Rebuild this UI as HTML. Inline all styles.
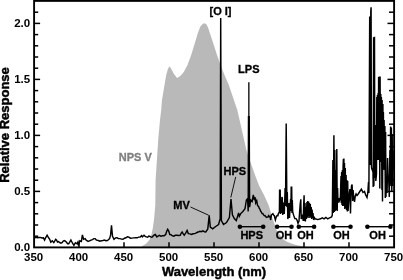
<!DOCTYPE html>
<html><head><meta charset="utf-8"><title>Spectrum</title>
<style>
html,body{margin:0;padding:0;background:#fff;}
svg{display:block}
text{font-family:"Liberation Sans",Arial,Helvetica,sans-serif;font-weight:bold;fill:#000}
</style></head><body>
<svg width="403" height="280" viewBox="0 0 403 280">
<rect width="403" height="280" fill="#fff"/>
<path d="M140.8,247.0 L146.4,243.6 L149.7,239.6 L151.6,234.0 L152.9,227.5 L154.2,218.0 L155.3,205.0 L155.6,180.0 L158.2,140.0 L160.0,120.0 L161.2,110.0 L162.0,100.0 L164.5,85.0 L166.2,75.0 L168.0,68.8 L169.5,66.2 L171.2,68.8 L173.8,73.8 L177.0,78.0 L180.0,76.2 L183.8,72.0 L187.5,65.0 L191.2,55.0 L195.0,42.5 L198.0,32.5 L200.5,26.2 L203.0,23.8 L204.5,23.2 L206.2,24.0 L208.0,27.5 L210.5,35.0 L213.8,45.0 L217.0,55.0 L220.5,65.0 L224.5,75.0 L228.8,85.0 L230.5,90.0 L237.3,110.0 L243.0,135.0 L246.4,150.0 L249.0,158.0 L251.5,165.0 L255.0,175.0 L259.0,185.5 L264.0,195.0 L268.5,205.0 L271.0,213.0 L272.5,218.5 L274.4,223.8 L276.3,229.5 L278.0,232.5 L280.0,235.0 L284.0,240.0 L287.0,241.8 L290.0,243.0 L296.0,245.0 L302.0,246.3 L306.0,247.4 Z" fill="#b9b9b9"/>
<path d="M34.5,237.8 L36.0,237.3 L37.4,237.7 L38.9,237.5 L40.4,237.4 L41.9,237.9 L43.4,237.8 L44.6,240.1 L45.6,237.8 L47.1,235.2 L48.6,237.8 L49.7,239.3 L50.8,242.3 L52.3,240.8 L53.8,242.6 L54.7,241.2 L55.6,239.3 L56.5,240.0 L57.5,242.0 L58.6,241.6 L59.8,242.7 L60.9,243.2 L62.0,242.7 L63.1,241.2 L64.2,240.5 L65.3,241.0 L66.5,242.3 L67.6,243.8 L68.7,243.8 L69.8,241.9 L70.9,240.1 L72.4,243.0 L73.9,245.3 L75.4,242.7 L76.9,243.8 L77.9,242.0 L78.4,245.3 L79.9,240.8 L81.4,241.5 L82.4,234.9 L83.6,239.3 L85.1,238.6 L86.2,240.2 L87.3,240.8 L88.0,241.5 L89.5,240.8 L91.0,240.1 L92.5,239.6 L93.9,238.6 L95.1,238.6 L96.2,239.8 L97.3,240.4 L98.4,240.5 L99.9,241.2 L101.4,240.8 L102.9,240.5 L104.4,240.1 L105.8,240.7 L107.3,240.5 L108.4,239.8 L109.6,238.6 L110.6,234.9 L111.5,225.2 L112.5,236.3 L114.0,239.3 L115.5,237.9 L117.0,237.8 L118.5,238.6 L120.0,238.6 L121.5,239.1 L123.0,239.3 L124.5,238.2 L125.9,237.8 L127.4,236.7 L128.9,237.1 L130.4,238.2 L131.9,238.1 L133.8,237.9 L135.6,237.8 L137.1,237.8 L138.6,237.1 L140.1,237.0 L141.6,235.6 L142.4,236.9 L144.0,235.3 L145.2,236.4 L146.4,236.9 L147.6,237.2 L148.8,236.1 L150.1,236.5 L151.3,237.3 L152.5,236.8 L153.7,235.3 L155.3,234.5 L156.9,236.9 L158.1,236.0 L159.3,235.3 L160.9,236.2 L162.5,235.7 L164.1,235.7 L165.7,234.5 L166.7,231.3 L167.7,229.3 L168.8,231.3 L169.8,234.5 L171.0,234.6 L172.2,235.7 L173.8,236.2 L175.4,235.3 L177.0,235.2 L178.6,235.5 L180.2,235.3 L181.1,233.3 L182.1,232.0 L183.1,233.7 L184.2,235.3 L185.8,232.8 L187.1,230.4 L188.3,233.6 L189.9,233.9 L191.5,234.5 L193.1,233.8 L194.7,233.6 L196.3,232.9 L197.9,232.0 L198.9,231.7 L200.0,231.2 L201.4,231.7 L202.9,230.9 L204.4,231.7 L205.8,231.9 L207.8,228.9 L209.2,215.2 L210.3,227.0 L212.7,228.9 L215.7,226.5 L218.6,224.5 L220.2,218.6 L220.7,18.0 L221.4,220.6 L223.5,224.5 L226.5,222.5 L229.4,217.6 L231.0,199.0 L232.4,214.7 L234.3,218.6 L236.3,220.6 L237.1,217.9 L238.6,212.9 L239.3,216.4 L240.7,213.6 L242.9,211.4 L245.0,208.6 L246.4,200.0 L247.6,198.6 L248.2,211.4 L248.5,116.8 L249.2,116.8 L249.6,207.1 L250.7,200.0 L252.1,201.4 L253.3,195.0 L254.3,200.0 L255.0,197.1 L255.7,202.9 L256.7,200.7 L257.6,205.7 L258.6,206.4 L259.3,208.5 L260.0,209.3 L260.7,211.3 L261.4,212.1 L262.1,213.6 L262.9,213.6 L263.6,214.9 L264.3,215.7 L265.0,215.5 L265.7,216.4 L266.4,217.3 L267.1,217.1 L267.9,217.1 L268.6,215.7 L269.3,216.7 L270.0,216.4 L270.7,220.0 L271.4,215.0 L272.1,214.4 L272.9,213.6 L273.6,215.0 L274.3,215.7 L275.4,220.0 L276.4,216.4 L277.1,215.6 L277.9,215.7 L278.4,213.5 L279.4,212.0 L279.6,190.3 L280.2,190.3 L280.5,214.0 L280.9,204.0 L281.4,213.0 L281.9,197.0 L282.3,198.0 L282.7,215.0 L283.7,202.5 L284.3,214.0 L285.1,188.0 L285.5,206.0 L286.2,123.6 L286.9,207.0 L287.3,192.0 L287.8,219.0 L288.4,216.0 L289.0,203.0 L289.5,218.0 L290.6,199.0 L290.9,211.0 L291.2,187.2 L291.7,187.2 L292.0,213.0 L292.3,200.0 L292.7,212.0 L293.7,215.4 L294.8,218.6 L296.1,218.6 L297.2,220.5 L298.0,223.4 L299.0,221.0 L299.6,212.0 L300.2,204.0 L300.8,199.3 L301.2,219.0 L302.4,214.5 L303.2,221.0 L303.7,204.0 L304.1,195.3 L304.5,221.0 L305.0,203.0 L305.4,221.5 L306.0,207.0 L306.4,219.0 L306.9,202.0 L307.3,217.0 L307.7,200.9 L308.1,218.0 L308.6,201.5 L309.0,216.0 L309.5,203.0 L309.9,218.0 L310.3,204.1 L310.8,217.0 L311.2,207.0 L311.7,219.0 L312.1,209.5 L312.6,218.0 L313.0,213.0 L313.6,220.0 L314.3,217.5 L315.2,218.8 L317.9,219.6 L320.5,218.8 L322.3,217.9 L324.1,218.8 L325.9,217.5 L327.7,218.8 L329.5,217.9 L331.6,217.0 L332.3,215.0 L332.9,160.0 L333.3,213.0 L333.9,135.2 L334.4,212.0 L334.8,150.0 L335.2,211.0 L335.7,170.0 L336.2,210.0 L336.8,148.9 L337.2,211.0 L337.6,188.0 L338.0,203.0 L338.8,198.0 L339.6,200.5 L340.4,197.0 L341.0,176.0 L341.3,203.0 L341.6,172.0 L342.0,205.0 L342.4,170.0 L342.7,206.0 L343.1,166.0 L343.4,159.0 L343.6,200.0 L343.9,158.5 L344.2,206.0 L344.5,163.0 L344.8,209.0 L345.3,168.0 L345.7,208.0 L346.1,175.0 L346.5,210.0 L346.9,180.0 L347.3,211.5 L347.7,181.0 L348.1,211.0 L348.9,197.3 L349.9,189.0 L350.5,213.5 L350.9,196.0 L351.5,186.0 L352.1,184.5 L352.6,201.0 L353.1,190.0 L353.6,196.0 L354.5,202.0 L355.3,196.0 L356.1,194.0 L357.0,195.5 L358.2,194.0 L359.8,191.5 L361.4,189.2 L363.0,192.5 L364.5,191.5 L365.7,195.0 L367.0,197.5 L367.8,193.0 L368.5,182.0 L368.9,193.0 L369.7,16.5 L370.1,165.0 L370.8,11.0 L371.1,7.2 L371.4,165.0 L371.6,168.0 L373.0,172.0 L373.2,187.0 L373.6,37.3 L373.9,186.0 L374.5,36.8 L374.8,178.0 L375.5,125.0 L375.8,181.0 L376.5,174.0 L376.8,97.0 L377.1,158.0 L377.4,95.0 L377.8,160.0 L378.1,93.0 L378.4,150.0 L378.6,77.0 L378.9,160.0 L379.3,76.4 L379.8,188.6 L380.1,76.4 L380.5,162.0 L380.8,94.0 L381.1,160.0 L381.4,97.0 L381.9,190.0 L382.1,100.0 L382.5,201.4 L382.9,104.0 L383.1,170.0 L383.4,112.0 L383.8,160.0 L384.1,120.0 L384.6,170.0 L384.9,126.0 L385.3,198.0 L385.6,132.0 L386.0,197.0 L386.4,176.0 L387.1,193.0 L387.6,158.0 L388.2,181.0 L388.6,177.0 L389.3,197.0 L389.9,150.0 L390.3,184.0 L390.6,126.4 L391.0,186.0 L391.4,127.5 L391.8,191.0 L392.2,134.0 L392.6,186.0 L393.0,150.0 L393.3,170.0" fill="none" stroke="#000" stroke-width="1.45" stroke-linejoin="miter" stroke-miterlimit="4"/>
<line x1="248.85" y1="118" x2="248.85" y2="82.3" stroke="#000" stroke-width="1.3"/>
<g stroke="#000" stroke-width="1.5"><line x1="79.0" y1="247.4" x2="79.0" y2="242.2"/><line x1="124.0" y1="247.4" x2="124.0" y2="242.2"/><line x1="169.0" y1="247.4" x2="169.0" y2="242.2"/><line x1="214.0" y1="247.4" x2="214.0" y2="242.2"/><line x1="259.0" y1="247.4" x2="259.0" y2="242.2"/><line x1="304.0" y1="247.4" x2="304.0" y2="242.2"/><line x1="349.0" y1="247.4" x2="349.0" y2="242.2"/><line x1="34.1" y1="236.2" x2="38.2" y2="236.2"/><line x1="394.1" y1="236.2" x2="389.0" y2="236.2"/><line x1="34.1" y1="225.0" x2="38.2" y2="225.0"/><line x1="394.1" y1="225.0" x2="389.0" y2="225.0"/><line x1="34.1" y1="213.8" x2="38.2" y2="213.8"/><line x1="394.1" y1="213.8" x2="389.0" y2="213.8"/><line x1="34.1" y1="202.6" x2="38.2" y2="202.6"/><line x1="394.1" y1="202.6" x2="389.0" y2="202.6"/><line x1="34.1" y1="191.4" x2="40.1" y2="191.4"/><line x1="394.1" y1="191.4" x2="387.5" y2="191.4"/><line x1="34.1" y1="180.2" x2="38.2" y2="180.2"/><line x1="394.1" y1="180.2" x2="389.0" y2="180.2"/><line x1="34.1" y1="169.0" x2="38.2" y2="169.0"/><line x1="394.1" y1="169.0" x2="389.0" y2="169.0"/><line x1="34.1" y1="157.8" x2="38.2" y2="157.8"/><line x1="394.1" y1="157.8" x2="389.0" y2="157.8"/><line x1="34.1" y1="146.6" x2="38.2" y2="146.6"/><line x1="394.1" y1="146.6" x2="389.0" y2="146.6"/><line x1="34.1" y1="135.4" x2="40.1" y2="135.4"/><line x1="394.1" y1="135.4" x2="387.5" y2="135.4"/><line x1="34.1" y1="124.2" x2="38.2" y2="124.2"/><line x1="394.1" y1="124.2" x2="389.0" y2="124.2"/><line x1="34.1" y1="113.0" x2="38.2" y2="113.0"/><line x1="394.1" y1="113.0" x2="389.0" y2="113.0"/><line x1="34.1" y1="101.8" x2="38.2" y2="101.8"/><line x1="394.1" y1="101.8" x2="389.0" y2="101.8"/><line x1="34.1" y1="90.6" x2="38.2" y2="90.6"/><line x1="394.1" y1="90.6" x2="389.0" y2="90.6"/><line x1="34.1" y1="79.4" x2="40.1" y2="79.4"/><line x1="394.1" y1="79.4" x2="387.5" y2="79.4"/><line x1="34.1" y1="68.2" x2="38.2" y2="68.2"/><line x1="394.1" y1="68.2" x2="389.0" y2="68.2"/><line x1="34.1" y1="57.0" x2="38.2" y2="57.0"/><line x1="394.1" y1="57.0" x2="389.0" y2="57.0"/><line x1="34.1" y1="45.8" x2="38.2" y2="45.8"/><line x1="394.1" y1="45.8" x2="389.0" y2="45.8"/><line x1="34.1" y1="34.6" x2="38.2" y2="34.6"/><line x1="394.1" y1="34.6" x2="389.0" y2="34.6"/><line x1="34.1" y1="23.4" x2="40.1" y2="23.4"/><line x1="394.1" y1="23.4" x2="387.5" y2="23.4"/><line x1="34.1" y1="12.2" x2="38.2" y2="12.2"/><line x1="394.1" y1="12.2" x2="389.0" y2="12.2"/></g>
<rect x="34.1" y="0.9" width="360.0" height="246.5" fill="none" stroke="#000" stroke-width="1.9"/>
<g font-size="11.5px"><text x="33.6" y="261.1" text-anchor="middle">350</text><text x="78.6" y="261.1" text-anchor="middle">400</text><text x="123.6" y="261.1" text-anchor="middle">450</text><text x="168.6" y="261.1" text-anchor="middle">500</text><text x="213.6" y="261.1" text-anchor="middle">550</text><text x="258.6" y="261.1" text-anchor="middle">600</text><text x="303.6" y="261.1" text-anchor="middle">650</text><text x="348.6" y="261.1" text-anchor="middle">700</text><text x="393.6" y="261.1" text-anchor="middle">750</text><text x="30.2" y="250.5" text-anchor="end">0.0</text><text x="30.2" y="194.5" text-anchor="end">0.5</text><text x="30.2" y="138.5" text-anchor="end">1.0</text><text x="30.2" y="82.5" text-anchor="end">1.5</text><text x="30.2" y="26.5" text-anchor="end">2.0</text></g>
<text x="214.0" y="275.8" font-size="13px" text-anchor="middle" stroke="#000" stroke-width="0.45">Wavelength (nm)</text>
<text transform="translate(9.3,125) rotate(-90)" font-size="13px" text-anchor="middle" stroke="#000" stroke-width="0.45">Relative Response</text>
<g font-size="11px" stroke="#000" stroke-width="0.3">
<text x="220.5" y="15.2" text-anchor="middle">[O I]</text>
<text x="248.8" y="73.3" text-anchor="middle">LPS</text>
<text x="234.8" y="175" text-anchor="middle">HPS</text>
<text x="181.6" y="208.8" text-anchor="middle">MV</text>
<text x="135.3" y="161.1" text-anchor="middle" style="fill:#808080;stroke:#808080">NPS V</text>
<text x="251.7" y="238.8" text-anchor="middle">HPS</text>
<text x="283.9" y="238.8" text-anchor="middle">OH</text>
<text x="305.4" y="238.8" text-anchor="middle">OH</text>
<text x="341.4" y="238.8" text-anchor="middle">OH</text>
<text x="377.6" y="238.8" text-anchor="middle">OH</text>
</g>
<g stroke="#000" stroke-width="0.9">
<line x1="190.5" y1="207" x2="208.6" y2="215.2"/>
<line x1="235.7" y1="176.9" x2="230.8" y2="197.5"/>
</g>
<line x1="239.9" y1="226.7" x2="263.2" y2="226.7" stroke="#000" stroke-width="1.4"/><circle cx="239.9" cy="226.7" r="2.3"/><circle cx="263.2" cy="226.7" r="2.3"/><line x1="277.1" y1="226.7" x2="291.5" y2="226.7" stroke="#000" stroke-width="1.4"/><circle cx="277.1" cy="226.7" r="2.3"/><circle cx="291.5" cy="226.7" r="2.3"/><line x1="298.8" y1="226.7" x2="314.1" y2="226.7" stroke="#000" stroke-width="1.4"/><circle cx="298.8" cy="226.7" r="2.3"/><circle cx="314.1" cy="226.7" r="2.3"/><line x1="333.4" y1="226.7" x2="350.5" y2="226.7" stroke="#000" stroke-width="1.4"/><circle cx="333.4" cy="226.7" r="2.3"/><circle cx="350.5" cy="226.7" r="2.3"/><line x1="367.4" y1="226.7" x2="390.4" y2="226.7" stroke="#000" stroke-width="1.4"/><circle cx="367.4" cy="226.7" r="2.3"/><circle cx="390.4" cy="226.7" r="2.3"/>
</svg>
</body></html>
